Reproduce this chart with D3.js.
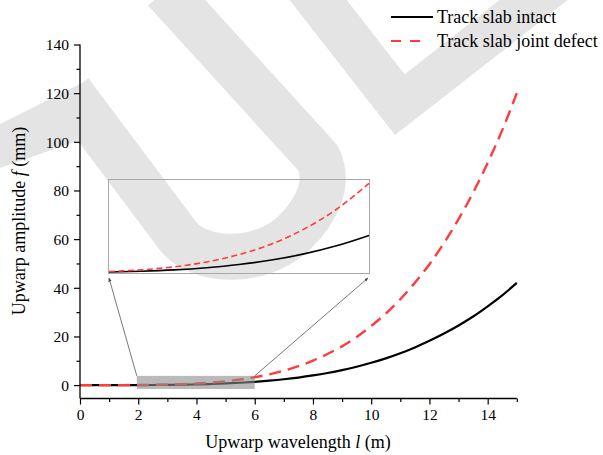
<!DOCTYPE html>
<html>
<head>
<meta charset="utf-8">
<script src="https://cdn.jsdelivr.net/npm/d3@7"></script>
<style>
  html, body { margin: 0; padding: 0; background: #fff; }
  svg { display: block; font-family: "Liberation Serif", "Times New Roman", serif; }
</style>
</head>
<body>
<svg id="chart" width="603" height="455"></svg>
<script>
// Upwarp wavelength l (m)
const wavelength = [0, 0.5, 1, 1.5, 2, 2.5, 3, 3.5, 4, 4.5, 5, 5.5, 6, 6.5, 7, 7.5,
                    8, 8.5, 9, 9.5, 10, 10.5, 11, 11.5, 12, 12.5, 13, 13.5, 14, 14.5, 15];
// Upwarp amplitude f (mm), track slab intact
const slabIntact = [0, 0.0001, 0.0016, 0.0075, 0.022, 0.051, 0.100, 0.179, 0.295, 0.459,
                    0.681, 0.974, 1.35, 1.82, 2.40, 3.11, 3.97, 4.98, 6.17, 7.56,
                    9.17, 11.0, 13.1, 15.5, 18.2, 21.2, 24.5, 28.2, 32.4, 36.9, 42.0];
// Upwarp amplitude f (mm), track slab joint defect
const jointDefect = [0, 0.0002, 0.0028, 0.0138, 0.043, 0.103, 0.211, 0.388, 0.656, 1.04,
                     1.58, 2.30, 3.24, 4.44, 5.95, 7.81, 10.06, 12.8, 16.0, 19.8,
                     24.3, 29.4, 35.3, 42.1, 49.7, 58.4, 68.2, 79.1, 91.3, 104.8, 120.0];

const seriesNames = ["Track slab intact", "Track slab joint defect"];
const xTicks = [0, 2, 4, 6, 8, 10, 12, 14];
const yTicks = [0, 20, 40, 60, 80, 100, 120, 140];

// magnified window (l range, f range) and the f range shown inside the enlarged view
const zoomL = [1.95, 6];
const zoomF = [-1.6, 3.8];
const insetL = [2, 6];
const insetF = [-0.03, 3.38];

const svg = d3.select("#chart");
const RED = "#ff3b3b";
const WM = "#e4e4e4";

// faint background lettering
const wm = svg.append("g");
wm.append("path")
  .attr("fill", "none").attr("stroke", WM).attr("stroke-width", 46)
  .attr("stroke-linejoin", "round")
  .attr("d", "M70,92 L178,236 C198,262 258,266 293,234 C318,210 330,182 318,158 L165,-10");
wm.append("path")
  .attr("fill", WM)
  .attr("d", "M88,80 L0,124 L0,168 L80,140 Z");
wm.append("path")
  .attr("transform", "translate(395,135) rotate(-38)")
  .attr("fill", WM)
  .attr("d", "M0,-420 L45,-420 L45,-42 L230,-42 L230,0 L0,0 Z");

const x = d3.scaleLinear().domain([0, 15]).range([80, 516.8]);
const y = d3.scaleLinear().domain([-5.5, 140]).range([398.5, 44.5]);

const pts = (vals) => wavelength.map((l, i) => [l, vals[i]]);

const line = d3.line().x(d => x(d[0])).y(d => y(d[1])).curve(d3.curveMonotoneX);

// main curves
svg.append("path").datum(pts(slabIntact))
  .attr("d", line).attr("fill", "none").attr("stroke", "#000").attr("stroke-width", 2.2);
svg.append("path").datum(pts(jointDefect))
  .attr("d", line).attr("fill", "none").attr("stroke", RED).attr("stroke-width", 2.4)
  .attr("stroke-dasharray", "12,7");

// highlighted window
svg.append("rect")
  .attr("x", x(zoomL[0])).attr("y", y(zoomF[1]))
  .attr("width", x(zoomL[1]) - x(zoomL[0])).attr("height", y(zoomF[0]) - y(zoomF[1]))
  .attr("fill", "#8c8c8c").attr("fill-opacity", 0.6);

// axes
const xAxis = d3.axisBottom(x).tickValues(d3.range(0, 16, 1)).tickSize(6)
  .tickFormat(d => xTicks.includes(d) ? d : "");
const gx = svg.append("g").attr("transform", `translate(0,${y(-5.5)})`).call(xAxis);
gx.selectAll(".tick line").attr("y2", d => xTicks.includes(d) ? 6 : 3.5);
const yAxis = d3.axisLeft(y).tickValues(d3.range(0, 150, 10)).tickSize(6)
  .tickFormat(d => yTicks.includes(d) ? d : "");
const gy = svg.append("g").attr("transform", `translate(${x(0)},0)`).call(yAxis);
gy.selectAll(".tick line").attr("x2", d => yTicks.includes(d) ? -6 : -3.5);

[gx, gy].forEach(g => {
  g.select(".domain").attr("stroke", "#000").attr("stroke-width", 1.3);
  g.selectAll(".tick line").attr("stroke", "#000").attr("stroke-width", 1.2);
  g.selectAll(".tick text").attr("fill", "#000")
    .style("font-family", "'Liberation Serif', 'Times New Roman', serif").style("font-size", "15.5px");
});
gx.select(".domain").attr("d", `M${x(0)},0H${x(15)}`);
gy.select(".domain").attr("d", `M0,${y(140)}V${y(-5.5)}`);
gx.selectAll(".tick text").attr("y", 10).attr("dy", "0.71em");
gy.selectAll(".tick text").attr("x", -11).attr("dy", "0.34em");

// axis titles
const xt = svg.append("text").attr("x", 298).attr("y", 448).attr("text-anchor", "middle")
  .style("font-size", "18px");
xt.append("tspan").text("Upwarp wavelength ");
xt.append("tspan").attr("font-style", "italic").text("l");
xt.append("tspan").text(" (m)");

const yt = svg.append("text").attr("transform", "translate(25,221) rotate(-90)")
  .attr("text-anchor", "middle").style("font-size", "18px");
yt.append("tspan").text("Upwarp amplitude ");
yt.append("tspan").attr("font-style", "italic").text("f");
yt.append("tspan").text(" (mm)");

// enlarged view
const inset = { x0: 108.5, x1: 369.5, y0: 179.5, y1: 273.5 };
const ix = d3.scaleLinear().domain(insetL).range([inset.x0 + 0.5, inset.x1 - 0.5]);
const iy = d3.scaleLinear().domain(insetF).range([inset.y1, inset.y0]);
const iline = d3.line().x(d => ix(d[0])).y(d => iy(d[1])).curve(d3.curveMonotoneX);
const inRange = (vals) => pts(vals).filter(d => d[0] >= insetL[0] && d[0] <= insetL[1]);

svg.append("rect")
  .attr("x", inset.x0).attr("y", inset.y0)
  .attr("width", inset.x1 - inset.x0).attr("height", inset.y1 - inset.y0)
  .attr("fill", "none").attr("stroke", "#a8a8a8").attr("stroke-width", 1);
svg.append("path").datum(inRange(slabIntact))
  .attr("d", iline).attr("fill", "none").attr("stroke", "#000").attr("stroke-width", 1.6);
svg.append("path").datum(inRange(jointDefect))
  .attr("d", iline).attr("fill", "none").attr("stroke", RED).attr("stroke-width", 1.6)
  .attr("stroke-dasharray", "6,3.5");

// connectors from window to enlarged view
svg.append("defs").append("marker")
  .attr("id", "tip").attr("viewBox", "0 0 10 10").attr("refX", 9).attr("refY", 5)
  .attr("markerWidth", 5).attr("markerHeight", 5).attr("orient", "auto")
  .append("path").attr("d", "M0,1 L10,5 L0,9 Z").attr("fill", "#444");
[[zoomL[0], inset.x0 + 0.5], [zoomL[1], inset.x1 - 1.5]].forEach(([l, tx]) => {
  svg.append("line")
    .attr("x1", x(l)).attr("y1", y(zoomF[1]))
    .attr("x2", tx).attr("y2", inset.y1 + 4.5)
    .attr("stroke", "#555").attr("stroke-width", 0.8).attr("marker-end", "url(#tip)");
});

// legend
const legend = svg.append("g");
legend.append("line").attr("x1", 391).attr("x2", 433).attr("y1", 17).attr("y2", 17)
  .attr("stroke", "#000").attr("stroke-width", 2.2);
legend.append("line").attr("x1", 391).attr("x2", 421).attr("y1", 41).attr("y2", 41)
  .attr("stroke", RED).attr("stroke-width", 2.2).attr("stroke-dasharray", "10,9");
seriesNames.forEach((name, i) => {
  legend.append("text").attr("x", 437).attr("y", 17 + i * 24).attr("dy", "0.33em")
    .style("font-size", "18px").text(name);
});
</script>
</body>
</html>
